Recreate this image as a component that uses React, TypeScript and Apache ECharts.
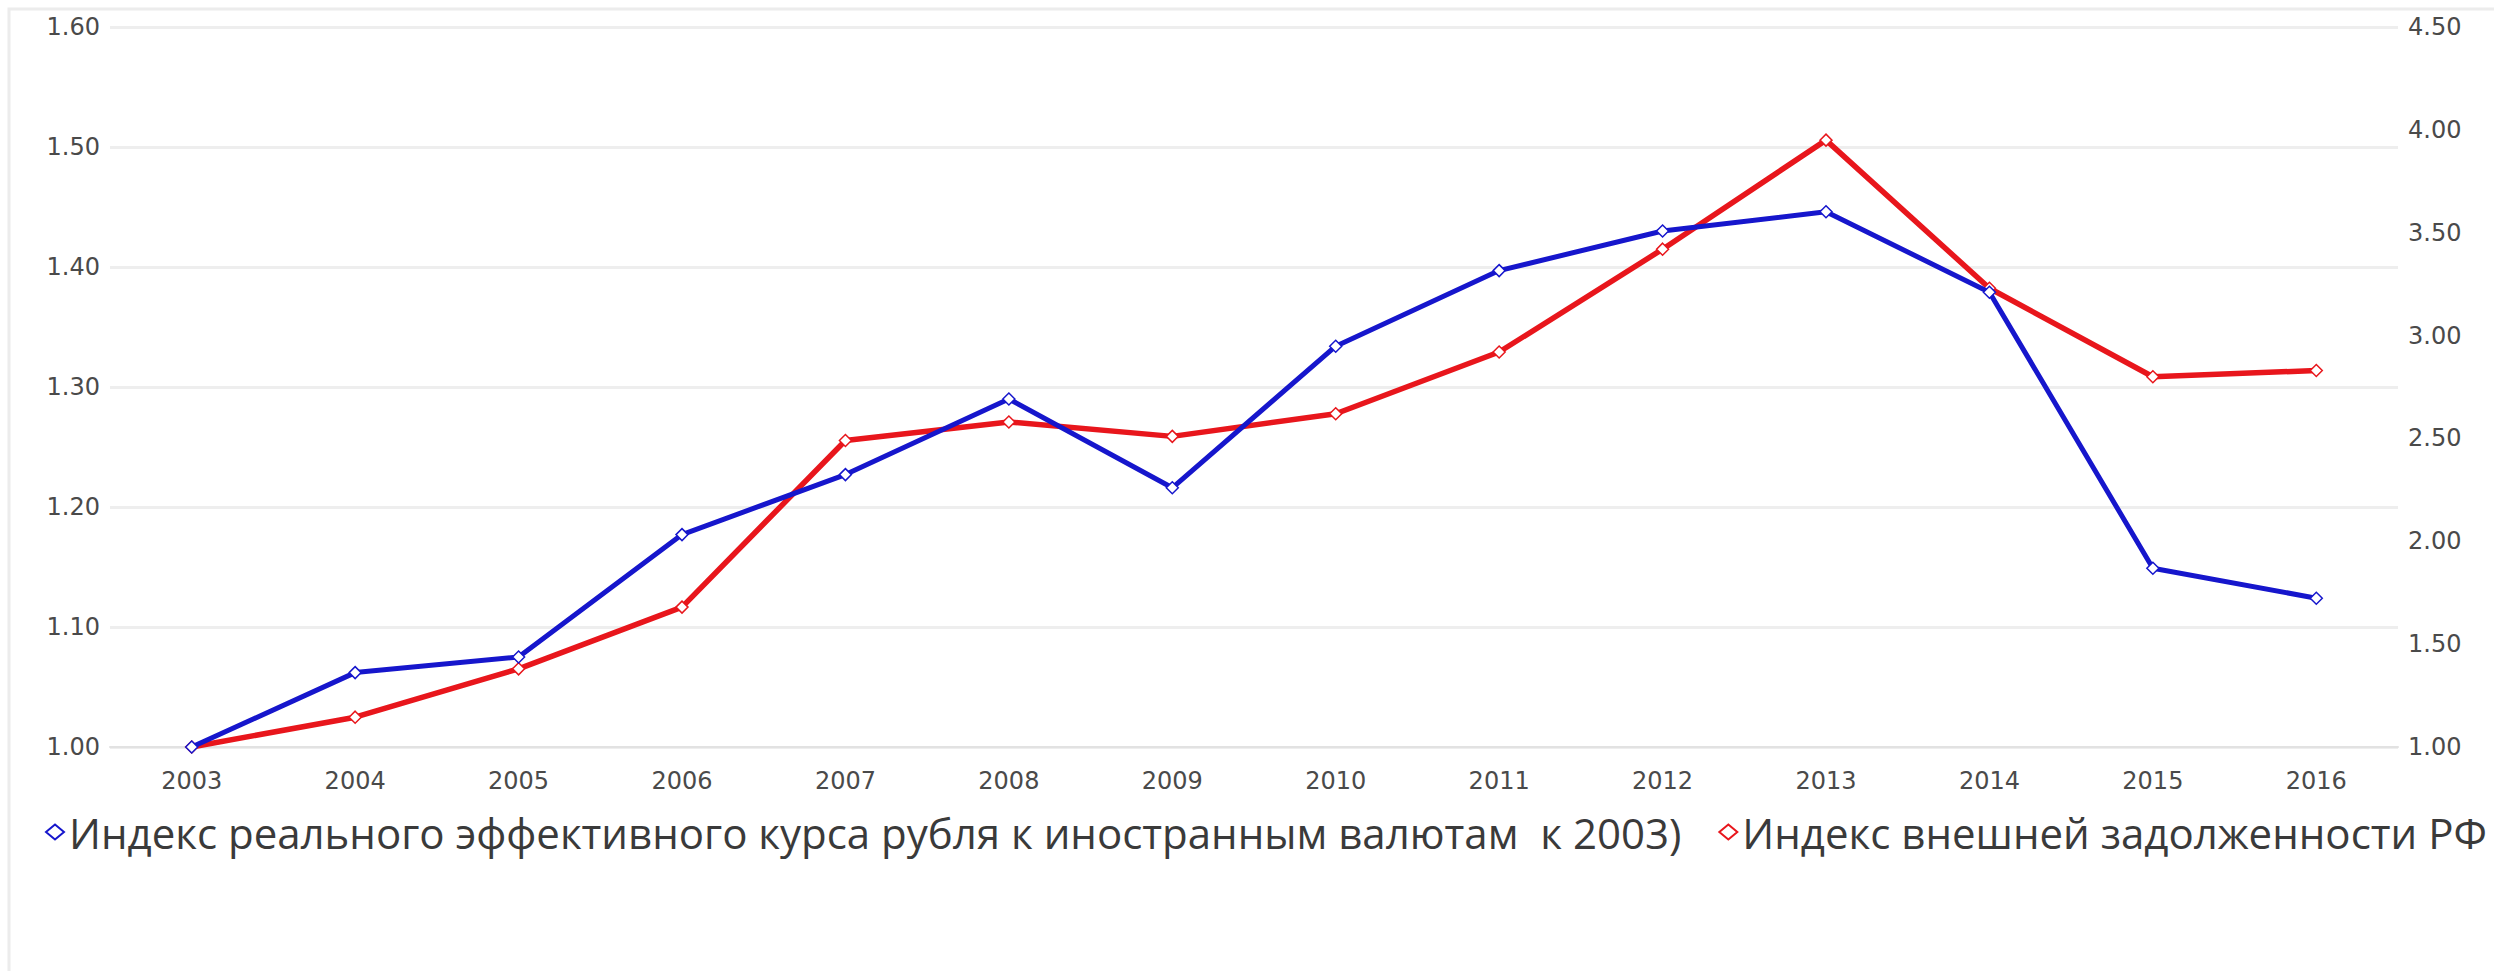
import React, { useEffect, useRef } from "react";
import * as echarts from "echarts";

// Годы наблюдений
const years: string[] = [
  "2003", "2004", "2005", "2006", "2007", "2008", "2009",
  "2010", "2011", "2012", "2013", "2014", "2015", "2016",
];

// Индекс реального эффективного курса рубля (2003 = 1), левая ось
const rubleRateIndex: number[] = [
  1.0, 1.062, 1.075, 1.177, 1.227, 1.29, 1.216,
  1.334, 1.397, 1.43, 1.446, 1.379, 1.149, 1.124,
];

// Индекс внешней задолженности РФ (2003 = 1), правая ось
const externalDebtIndex: number[] = [
  1.0, 1.145, 1.38, 1.68, 2.49, 2.58, 2.51,
  2.62, 2.92, 3.42, 3.95, 3.23, 2.8, 2.83,
];

const seriesNames: string[] = [
  "Индекс реального эффективного курса рубля к иностранным валютам  к 2003)",
  "Индекс внешней задолженности РФ",
];

const BLUE = "#1616cc";
const RED = "#e8161c";

export default function App() {
  const ref = useRef<HTMLDivElement>(null);

  useEffect(() => {
    if (!ref.current) return;
    const chart = echarts.init(ref.current, undefined, { renderer: "svg" });

    const axisLabel = {
      color: "#4a4a4a",
      fontFamily: "DejaVu Sans",
      fontSize: 24,
    };

    chart.setOption({
      animation: false,
      backgroundColor: "#ffffff",
      grid: { left: 110, right: 96, top: 27, bottom: 224 },
      graphic: [
        {
          type: "rect",
          shape: { x: 9, y: 9, width: 2500, height: 1000 },
          style: { fill: "none", stroke: "#ececec", lineWidth: 3 },
          silent: true,
          z: -1,
        },
      ],
      legend: {
        left: 40,
        top: 806,
        padding: 5,
        itemGap: 37,
        itemWidth: 18,
        itemHeight: 15,
        icon: "diamond",
        textStyle: {
          color: "#3a3a3a",
          fontFamily: "Open Sans",
          fontSize: 42,
        },
        data: seriesNames,
      },
      xAxis: {
        type: "category",
        data: years,
        boundaryGap: true,
        axisLine: { lineStyle: { color: "#e2e2e2", width: 2 } },
        axisTick: { show: false },
        axisLabel: { ...axisLabel, margin: 22 },
      },
      yAxis: [
        {
          type: "value",
          min: 1.0,
          max: 1.6,
          interval: 0.1,
          axisLine: { show: false },
          axisTick: { show: false },
          axisLabel: {
            ...axisLabel,
            margin: 10,
            formatter: (v: number) => v.toFixed(2),
          },
          splitLine: { lineStyle: { color: "#eeeeee", width: 3 } },
        },
        {
          type: "value",
          min: 1.0,
          max: 4.5,
          interval: 0.5,
          axisLine: { show: false },
          axisTick: { show: false },
          axisLabel: {
            ...axisLabel,
            margin: 10,
            formatter: (v: number) => v.toFixed(2),
          },
          splitLine: { show: false },
        },
      ],
      series: [
        {
          name: seriesNames[0],
          type: "line",
          yAxisIndex: 0,
          data: rubleRateIndex,
          symbol: "diamond",
          symbolSize: 12,
          lineStyle: { color: BLUE, width: 5 },
          itemStyle: { color: "#ffffff", borderColor: BLUE, borderWidth: 1.5 },
          z: 3,
        },
        {
          name: seriesNames[1],
          type: "line",
          yAxisIndex: 1,
          data: externalDebtIndex,
          symbol: "diamond",
          symbolSize: 12,
          lineStyle: { color: RED, width: 5.5 },
          itemStyle: { color: "#ffffff", borderColor: RED, borderWidth: 1.5 },
          z: 2,
        },
      ],
    });

    return () => chart.dispose();
  }, []);

  return (
    <div
      ref={ref}
      style={{ position: "fixed", left: 0, top: 0, width: 2494, height: 971 }}
    />
  );
}
